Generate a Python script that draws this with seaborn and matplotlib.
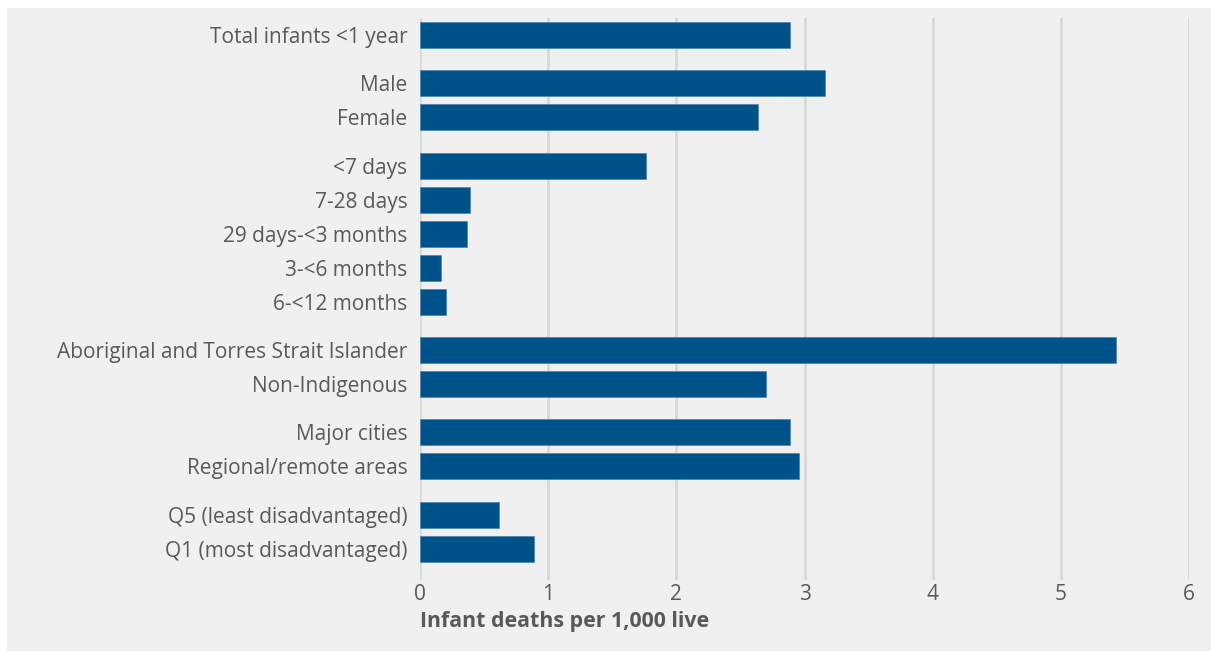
import matplotlib
matplotlib.use("Agg")
import matplotlib.pyplot as plt
import matplotlib.patches as mpatches
import seaborn as sns
import numpy as np
import pandas as pd

# data
labels = ["Total infants <1 year",
          "Male", "Female",
          "<7 days", "7-28 days", "29 days-<3 months", "3-<6 months", "6-<12 months",
          "Aboriginal and Torres Strait Islander", "Non-Indigenous",
          "Major cities", "Regional/remote areas",
          "Q5 (least disadvantaged)", "Q1 (most disadvantaged)"]
groups = [0, 1, 1, 2, 2, 2, 2, 2, 3, 3, 4, 4, 5, 5]
rates = [2.89, 3.16, 2.64, 1.76, 0.39, 0.37, 0.16, 0.20, 5.43, 2.70, 2.89, 2.96, 0.62, 0.89]
xticks = [0, 1, 2, 3, 4, 5, 6]

gap = 0.42  # extra space between groups
pos = np.arange(len(labels)) + gap * np.array(groups)
df = pd.DataFrame({"label": labels, "rate": rates, "pos": pos})

sns.set_style("white")
plt.rcParams['font.family'] = ['Open Sans', 'DejaVu Sans']
grey_txt = "#595959"
bg = "#f0f0f0"

fig = plt.figure(figsize=(12.11, 6.51), dpi=100)
fig.patch.set_facecolor("white")
# light grey panel with thin white margin
fig.patches.append(mpatches.Rectangle((7 / 1211, 0), 1 - 7 / 1211, 1 - 8 / 651,
                                      transform=fig.transFigure, facecolor=bg,
                                      edgecolor="none", zorder=-10))

ax = fig.add_axes([420 / 1211, 1 - 580 / 651, (1189 - 420) / 1211, (580 - 18) / 651])
ax.set_facecolor(bg)
ax.patch.set_alpha(0)

sns.barplot(data=df, x="rate", y="pos", orient="y", native_scale=True,
            color="#00528a", saturation=1, width=0.77,
            edgecolor="#3f7fb0", linewidth=0.4, ax=ax, zorder=3)

ax.set_xlim(0, 6)
ax.set_ylim(pos[-1] + 0.92, -0.5)
ax.set_xticks(xticks)
ax.set_xticklabels([str(t) for t in xticks])
ax.set_yticks(pos)
ax.set_yticklabels(labels)
ax.xaxis.grid(True, color="#d9d9d9", linewidth=2)
ax.yaxis.grid(False)
ax.set_axisbelow(True)
for s in ax.spines.values():
    s.set_visible(False)
ax.tick_params(axis="y", length=0, pad=9, labelsize=15, labelcolor=grey_txt)
ax.tick_params(axis="x", length=0, pad=3, labelsize=15, labelcolor=grey_txt)
ax.set_ylabel("")
ax.set_xlabel("")
fig.text(420 / 1211, 1 - 622 / 651, "Infant deaths per 1,000 live", ha="left", va="center",
         fontsize=15.4, fontweight="bold", color=grey_txt)

fig.savefig("out.png", dpi=100)
